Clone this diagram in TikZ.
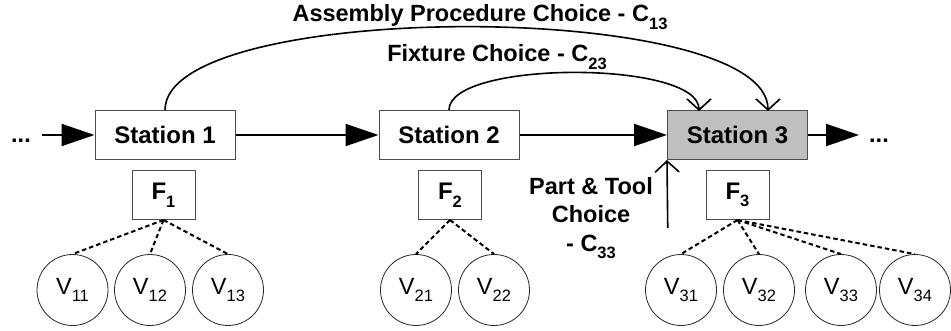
\documentclass[tikz,border=0pt]{standalone}
\usepackage{fontspec}
\setmainfont{Liberation Sans}
\usetikzlibrary{arrows.meta}
% lowered index used in all labels
\newcommand{\lowidx}[1]{\raisebox{-0.6ex}{\fontsize{16.5}{17}\selectfont #1}}
\begin{document}
\begin{tikzpicture}[x=1pt,y=-1pt,
  station/.style={draw=black!70, line width=1pt, minimum width=140pt,
    minimum height=49pt, inner sep=0pt, font=\fontsize{24}{27}\selectfont\bfseries},
  fixbox/.style={draw=black!70, line width=1pt, minimum width=63pt,
    minimum height=49pt, inner sep=0pt, font=\fontsize{24}{27}\selectfont\bfseries},
  var/.style={circle, draw=black!85, line width=0.8pt, minimum size=71pt,
    inner sep=0pt, font=\fontsize{23.5}{26}\selectfont},
  flow/.style={line width=2pt, -{Triangle[length=33pt,width=22pt]}},
  choice/.style={line width=1.6pt, -{Straight Barb[length=11pt,width=24pt,line width=1.6pt]}},
  link/.style={line width=2pt, dash pattern=on 4.5pt off 3pt},
  lbl/.style={font=\fontsize{23.5}{28.5}\selectfont\bfseries, inner sep=0pt},
]
\useasboundingbox (0,0) rectangle (951,331);

% stations
\node[station] (s1) at (165,135) {Station 1};
\node[station] (s2) at (449,135) {Station 2};
\node[station, fill=black!25] (s3) at (737.5,135) {Station 3};

% fixtures
\node[fixbox] (f1) at (163.5,195) {F\lowidx{1}};
\node[fixbox] (f2) at (450,195) {F\lowidx{2}};
\node[fixbox] (f3) at (737.5,195) {F\lowidx{3}};

% variables
\node[var] (v11) at (72.5,290) {V\lowidx{11}};
\node[var] (v12) at (150,290) {V\lowidx{12}};
\node[var] (v13) at (228,290) {V\lowidx{13}};
\node[var] (v21) at (416,290) {V\lowidx{21}};
\node[var] (v22) at (494,290) {V\lowidx{22}};
\node[var] (v31) at (681,290) {V\lowidx{31}};
\node[var] (v32) at (759,290) {V\lowidx{32}};
\node[var] (v33) at (841,290) {V\lowidx{33}};
\node[var] (v34) at (915,290) {V\lowidx{34}};

% dashed links from fixtures to variables
\foreach \v in {v11,v12,v13} \draw[link] (f1.south) -- (\v.north);
\foreach \v in {v21,v22} \draw[link] (f2.south) -- (\v.north);
\foreach \v in {v31,v32,v33,v34} \draw[link] (f3.south) -- (\v.north);

% material flow
\node[lbl, anchor=base] (dotsl) at (21,143) {...};
\node[lbl, anchor=base] (dotsr) at (879,143) {...};
\coordinate (inl) at (42,135);
\coordinate (outr) at (859,135);
\draw[flow] (inl) -- (s1.west);
\draw[flow] (s1.east) -- (s2.west);
\draw[flow] (s2.east) -- (s3.west);
\draw[flow] (s3.east) -- (outr);

% choices
\coordinate (c13in) at (768,111);
\coordinate (c23in) at (699,111);
\draw[choice] (s1.north) .. controls (165,-1) and (768,-1) .. (c13in);
\draw[choice] (s2.north) .. controls (449,60) and (699,60) .. (c23in);
\coordinate (c33from) at (667.75,228);
\draw[choice] (c33from) -- (s3.south west);

\node[lbl] (t13) at (480,17) {Assembly Procedure Choice - C\lowidx{13}};
\node[lbl] (t23) at (497,57) {Fixture Choice - C\lowidx{23}};
\node[lbl, align=center] (t33) at (591,218) {Part \& Tool\\Choice\\- C\lowidx{33}};
\end{tikzpicture}
\end{document}
